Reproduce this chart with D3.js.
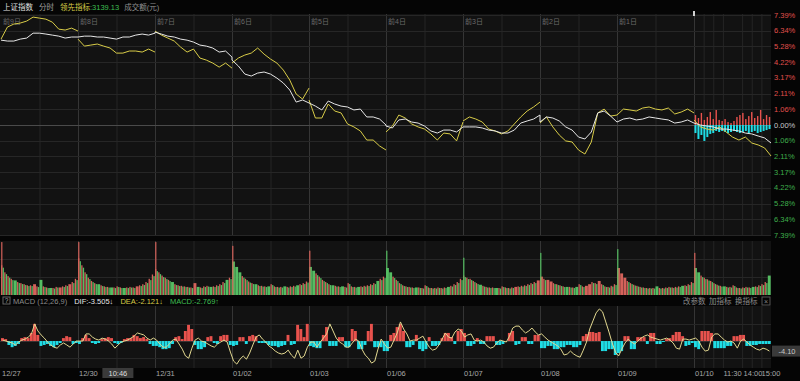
<!DOCTYPE html>
<html>
<head>
<meta charset="utf-8">
<script src="https://cdn.jsdelivr.net/npm/d3@7"></script>
<style>
  body { margin: 0; background: #000; }
  svg { display: block; font-family: "Liberation Sans", Arial, "Noto Sans CJK SC", sans-serif; }
</style>
</head>
<body>
<svg id="chart" width="800" height="381"></svg>
<script>
//categories and tick labels
let dates = ['12/27', '12/30', '12/31', '01/02', '01/03', '01/06', '01/07', '01/08', '01/09', '01/10'];
let dayTags = ['前9日', '前8日', '前7日', '前6日', '前5日', '前4日', '前3日', '前2日', '前1日'];
let pctTicks = [7.39, 6.34, 5.28, 4.22, 3.17, 2.11, 1.06, 0, -1.06, -2.11, -3.17, -4.22, -5.28, -6.34, -7.39];
let todayTimes = ['11:30', '14:00', '15:00'];
let macdGrid = [7, 0, -7];
let cursorDay = 1, cursorTime = '10:46', cursorValue = -4.10;

//上证指数 % change, 13 points a day (every 20 min)
let indexPct = [
  [5.70, 5.64, 5.64, 5.77, 5.84, 6.17, 6.17, 6.11, 6.04, 5.97, 5.84, 5.91, 5.91],
  [5.91, 5.97, 5.97, 5.91, 5.91, 5.84, 5.77, 5.91, 5.91, 6.04, 6.11, 6.04, 6.17],
  [6.24, 6.11, 5.97, 5.91, 5.77, 5.70, 5.57, 5.37, 5.30, 5.17, 4.90, 4.97, 4.56],
  [4.36, 3.96, 3.42, 3.29, 3.49, 3.56, 3.42, 3.15, 2.82, 2.35, 1.54, 1.68, 1.48],
  [1.48, 1.27, 1.01, 1.61, 1.41, 1.27, 1.21, 1.01, 1.07, 0.54, 0.54, 0.40, 0.00],
  [-0.07, -0.20, 0.34, 0.40, 0.20, 0.13, -0.07, -0.40, -0.54, -0.34, -0.34, -0.47, -0.13],
  [-0.13, -0.13, -0.13, -0.20, -0.34, -0.40, -0.54, -0.54, -0.34, 0.13, 0.27, 0.40, 0.67],
  [0.20, 0.54, 0.47, 0.27, -0.13, -0.34, -0.81, -0.94, -0.47, 0.81, 0.94, 0.60, 0.20],
  [0.20, 0.40, 0.47, 0.34, 0.40, 0.54, 0.47, 0.40, 0.34, 0.13, 0.20, 0.34, 0.13],
  [0.13, 0.00, -0.07, -0.13, -0.27, -0.27, -0.34, -0.40, -0.54, -0.60, -0.74, -0.87, -1.21]
];

//领先指标 % change
let leadPct = [
  [5.77, 6.58, 6.78, 6.85, 6.98, 7.25, 7.18, 7.11, 6.91, 6.44, 6.38, 6.51, 6.31],
  [5.77, 5.30, 5.37, 5.44, 5.30, 5.17, 4.83, 4.83, 4.97, 4.97, 4.90, 5.10, 4.90],
  [6.31, 6.04, 5.84, 5.64, 5.23, 4.90, 5.10, 4.50, 4.36, 4.16, 3.89, 4.16, 3.82],
  [4.16, 4.50, 4.70, 4.83, 5.17, 4.76, 4.43, 4.16, 3.69, 3.02, 2.08, 1.74, 2.48],
  [1.68, 0.47, 0.47, 1.41, 0.94, 0.81, 0.07, -0.13, -0.40, -1.01, -1.01, -1.41, -1.68],
  [-0.47, -0.07, 0.67, 0.47, 0.07, -0.13, -0.27, -0.60, -1.01, -0.54, -0.60, -1.07, 0.20],
  [0.27, 0.54, 0.40, 0.20, -0.27, -0.40, -0.60, -0.40, 0.07, 0.54, 0.94, 1.21, 1.54],
  [0.13, 0.54, -0.13, -0.67, -1.07, -1.14, -1.68, -1.95, -1.14, 0.81, 1.07, 0.60, 0.67],
  [0.67, 1.07, 1.01, 0.94, 1.14, 1.21, 1.07, 1.01, 1.14, 0.74, 0.87, 1.07, 0.81],
  [0.34, -0.13, -0.27, -0.34, -0.13, -0.47, -0.81, -1.01, -0.81, -1.21, -1.34, -1.54, -2.08]
];

//today's buy / sell strength bars (% units)
let todayBuy = [0.67, 0.47, 0.81, 0.34, 0.54, 0.87, 0.40, 1.01, 0.34, 0.27, 0.40, 0.20, 0.13, 0.27, 0.54, 0.67, 0.81, 0.40, 0.60, 0.87, 0.47, 0.60, 1.01, 0.40, 0.67, 0.54];
let todaySell = [0.54, 0.94, 0.67, 1.07, 0.81, 0.60, 0.54, 0.40, 0.47, 0.40, 0.47, 0.54, 0.47, 0.40, 0.47, 0.54, 0.47, 0.40, 0.54, 0.47, 0.40, 0.54, 0.47, 0.40, 0.34, 0.27];

//turnover of the opening minute of each day, and its colour
let volOpen = [98, 98, 98, 91, 82, 82, 69, 78, 85, 78];
let volOpenColors = 'rrrrrggggr';

//turnover, 24 buckets a day (10 min), relative to the top of the panel
let volume = [
  [55, 42, 35, 30, 27, 24, 22, 20, 18, 18, 20, 16, 28, 16, 14, 13, 13, 15, 14, 16, 18, 20, 24, 30],
  [68, 55, 42, 32, 26, 22, 20, 18, 16, 15, 14, 14, 16, 14, 13, 14, 15, 14, 16, 18, 20, 24, 30, 38],
  [48, 42, 36, 32, 28, 24, 20, 18, 17, 16, 15, 14, 22, 15, 14, 16, 17, 15, 16, 18, 20, 24, 28, 32],
  [62, 52, 42, 35, 30, 25, 22, 20, 18, 17, 16, 16, 20, 16, 15, 15, 16, 15, 16, 17, 18, 20, 22, 25],
  [52, 45, 40, 34, 28, 24, 20, 18, 17, 16, 16, 15, 22, 16, 15, 15, 16, 17, 18, 20, 22, 26, 30, 34],
  [50, 42, 34, 28, 22, 18, 16, 15, 14, 14, 14, 13, 18, 14, 13, 13, 14, 13, 14, 15, 17, 20, 24, 30],
  [36, 32, 30, 26, 22, 19, 17, 15, 14, 14, 13, 13, 16, 14, 13, 14, 15, 16, 17, 18, 20, 22, 24, 27],
  [34, 30, 28, 25, 22, 20, 18, 16, 15, 15, 14, 15, 20, 16, 17, 20, 24, 22, 26, 20, 16, 15, 17, 20],
  [50, 40, 32, 26, 22, 19, 17, 15, 14, 13, 13, 13, 16, 13, 13, 14, 15, 14, 15, 16, 17, 18, 20, 24],
  [50, 42, 36, 32, 29, 26, 22, 19, 17, 16, 15, 15, 18, 14, 13, 14, 15, 14, 15, 16, 18, 20, 24, 36]
];
//r = up, g = down, m = mixed bucket
let volColors = [
  'mmmmgmmmmmrmgmmgmmrmmrmm',
  'mmmmmmgmmmgmmmgmmmrmmmmm',
  'mmmmmgmmmmmmrgmmmgmmmmgm',
  'gggmmmmgmmmgmmmmgmmmgmmm',
  'ggmmmmmgmmgmmmmgmmmmmgmm',
  'ggmmmmmmmgmmmmmmmmmgmmmm',
  'mmmmmgmmmmgmmmmmrmmmmmmr',
  'rmrrmmmmgmmgmmrrmmrmmmmm',
  'rrrmmmmmmmmmgmmmmmmmgmmm',
  'ggmmmmmmmgmmmmmmmmgmmmmg'
];

//MACD histogram, 24 buckets a day
let macdHist = [
  [1.2, 0.8, -1.6, -2.5, -2.0, -1.2, 1.2, 1.6, 1.2, 3.3, 7.0, 2.5, -2.0, -1.6, -1.2, -2.0, -2.5, -1.6, -0.8, 1.2, 2.0, 1.6, -1.2, -0.8],
  [-1.2, 1.2, 2.5, 1.2, -0.8, -1.2, -0.8, 0.8, 1.2, 1.6, 1.2, -0.8, -1.2, -0.8, 0.8, 1.2, 1.2, 2.5, 2.0, 1.2, 1.6, 0.8, -1.2, -2.0],
  [-2.0, -2.5, -3.3, -3.3, -2.9, -1.2, 1.6, 2.0, 0.8, 4.1, 6.6, 4.9, -1.6, -3.3, -3.3, -2.5, 1.6, 2.0, -0.8, -1.2, 2.0, 2.5, 2.5, -1.6],
  [-2.0, -1.6, 1.6, 1.6, -1.2, 2.0, 2.5, 2.0, -0.8, -0.8, -0.8, -1.6, -2.0, -2.0, -2.5, -2.0, -1.6, 2.5, -1.6, -1.2, 6.6, 4.9, 1.6, 7.0],
  [-2.0, -2.5, -2.9, -2.9, 2.5, 5.7, -2.0, -2.0, -2.0, 1.6, 1.6, -2.5, -2.5, 4.9, 4.1, -3.3, -3.3, -1.6, 4.1, 7.0, -2.5, -2.5, -2.5, -4.1],
  [-4.1, 2.5, 3.3, 5.7, 7.0, 4.1, -2.5, -2.5, -1.6, 2.5, -3.3, -4.1, -3.3, 1.6, -2.0, -2.0, -1.6, 1.2, 3.3, 3.3, 1.6, -1.2, 4.1, 4.9],
  [3.3, -2.0, -2.0, -1.2, 1.2, -1.2, -1.2, 2.0, 2.0, 2.0, -1.6, -1.6, -1.2, 0, 3.3, 4.1, -1.6, -1.2, 1.6, 1.6, -1.2, -1.2, 2.5, 2.5],
  [-2.9, -2.9, -2.0, -2.0, -3.3, -3.3, -2.5, -2.5, -1.6, -1.6, -2.5, -2.5, -1.6, 2.0, 2.9, 3.7, 3.7, 3.3, 3.7, -4.1, -4.1, -3.3, -3.3, -5.7],
  [-4.9, -4.1, 2.0, 2.0, -3.3, -3.3, 1.6, 1.6, 1.6, -1.2, 3.3, 3.3, -1.2, -1.2, -0.4, 0.8, 1.2, 2.5, 3.7, 3.7, 2.0, -2.0, -1.6, -0.8],
  [-2.5, -3.3, 4.1, 4.1, 4.1, 3.3, -2.9, -2.9, -2.9, -2.9, -2.0, -2.0, 2.0, 2.0, 2.5, 2.5, -2.0, -2.0, -1.6, -1.6, -1.2, -1.2, -1.2, -1.2]
];

//MACD signal line, 24 points a day
let macdLine = [
  [0.4, 0, -0.4, -0.8, -1.6, -0.4, 0.4, 0.8, 1.6, 2.9, 7.0, 4.1, 2.5, 1.2, -0.4, -1.6, -2.5, -2.9, -1.6, -0.8, -1.6, -2.5, -1.2, 0],
  [0, 0, 2.9, 2.9, 1.6, 0.8, 0.4, 1.2, 0.8, 0, -1.2, -2.9, -1.6, -0.4, 0, 0.4, 1.2, 2.0, 3.3, 2.9, 2.5, 1.2, 0.4, 1.2],
  [0.4, -1.2, -2.5, -2.5, -1.2, 0.4, 0.8, -1.2, -3.3, -6.1, -7.0, -2.9, 0.4, 1.2, 0, -0.4, -1.2, -2.0, -2.5, -1.2, -0.4, 0.4, -0.4, -4.5],
  [-8.2, -9.4, -7.4, -6.1, -7.4, -4.9, -1.6, 1.6, 2.5, 0.8, -0.4, -2.0, -2.9, -4.1, -4.9, -5.3, -4.9, -3.7, -5.7, -7.0, -3.7, -7.0, -6.1, -2.5],
  [-0.4, -0.4, -2.5, -0.4, 1.2, 2.9, 7.0, 4.1, 1.2, -0.4, -1.2, -2.5, -2.5, -0.8, 0.8, 0, -3.3, -5.7, -7.0, -9.0, -8.2, -3.3, 0.8, -1.2],
  [-2.9, -2.5, 0.4, 3.3, 7.8, 4.9, 2.9, 0, 0.4, 0.4, 1.2, 2.0, -0.4, -2.5, -3.7, -3.3, -1.6, 0.8, 3.3, 1.6, 1.2, 3.7, 4.9, 4.1],
  [1.6, 2.5, 2.9, 0.4, 0, 0.4, -0.4, -2.0, -2.9, -2.5, -0.8, 0.4, 0, -0.4, 2.0, 5.3, 6.1, 6.1, 4.5, 3.3, 4.1, 5.3, 3.7, 2.5],
  [2.9, 1.6, 0.4, -0.4, -1.2, -2.0, -3.3, -5.7, -5.3, -4.1, -5.3, -6.1, -6.6, -3.7, -0.4, 4.9, 8.2, 11.5, 13.1, 11.9, 7.8, 3.7, -0.8, -4.5],
  [-6.1, -3.3, -0.8, 0.8, -0.4, -1.2, 0, 1.2, 2.0, 2.5, 1.6, 1.2, 0.8, 0.4, 0.8, 1.2, 0.4, -0.8, -2.9, -3.3, 0.8, 0.8, 0.4, 0.8],
  [1.2, 0, -2.5, -4.1, -3.7, 1.6, 2.9, 2.9, 1.6, 0.4, -0.4, 0, -0.8, -2.9, 0, 0.8, -0.4, -1.6, -2.5, -3.3, -3.7, -2.9, -3.3, -4.1]
];

let red = '#e8524d', green = '#45c258', cyan = '#1fdde6', yellow = '#d8cc48';
let volRed = '#d4625a', volGreen = '#55bd62';

//scales: x runs in trading days, 0 = open of 12/27
let x = d3.scaleLinear().domain([0, dates.length]).range([1, 771]);
let yMain = d3.scaleLinear().domain([-7.39, 7.39]).range([235, 15]);
let yVol = d3.scaleLinear().domain([0, 100]).range([295, 241]);
let yMacd = d3.scaleLinear().domain([-11, 14.3]).range([368, 306]);

//trading minutes since 9:30, lunch break removed
function tradeMin(s) {
  let p = s.split(':').map(Number);
  let m = p[0] * 60 + p[1];
  return m <= 690 ? m - 570 : m - 780 + 120;
}

let svg = d3.select('#chart');

//panel backgrounds
svg.append('rect').attr('width', 800).attr('height', 381).attr('fill', '#050505');
let panels = [[14, 236], [241, 295], [306, 368]];
svg.selectAll('rect.panel').data(panels).join('rect')
  .attr('class', 'panel')
  .attr('x', 0).attr('y', d => d[0])
  .attr('width', x(dates.length)).attr('height', d => d[1] - d[0])
  .attr('fill', '#121212');

//vertical grid: day lines, half days, half hours of today
let vLines = [];
dates.forEach((d, i) => {
  if (i > 0) vLines.push({t: i, c: '#353535'});
  if (i < dates.length - 1) vLines.push({t: i + 0.5, c: '#252525'});
});
d3.range(1, 8).forEach(k => { if (k != 4) vLines.push({t: dates.length - 1 + k / 8, c: '#252525'}); });
let grid = svg.append('g');
panels.forEach(p => {
  grid.selectAll(null).data(vLines).join('line')
    .attr('x1', d => x(d.t) + 0.5).attr('x2', d => x(d.t) + 0.5)
    .attr('y1', p[0]).attr('y2', p[1])
    .attr('stroke', d => d.c);
});

//horizontal grid
grid.selectAll(null).data(pctTicks).join('line')
  .attr('x1', 0).attr('x2', x(dates.length))
  .attr('y1', d => Math.round(yMain(d)) + 0.5).attr('y2', d => Math.round(yMain(d)) + 0.5)
  .attr('stroke', d => d == 0 ? '#4a4a4a' : '#262626');
grid.selectAll(null).data([100 / 3, 200 / 3]).join('line')
  .attr('x1', 0).attr('x2', x(dates.length))
  .attr('y1', d => Math.round(yVol(d)) + 0.5).attr('y2', d => Math.round(yVol(d)) + 0.5)
  .attr('stroke', '#262626');
grid.selectAll(null).data(macdGrid).join('line')
  .attr('x1', 0).attr('x2', x(dates.length))
  .attr('y1', d => Math.round(yMacd(d)) + 0.5).attr('y2', d => Math.round(yMacd(d)) + 0.5)
  .attr('stroke', d => d == 0 ? '#333' : '#262626');

//header
let head = svg.append('text').attr('x', 3).attr('y', 10).attr('font-size', 7.5);
head.append('tspan').attr('fill', '#e0e0e0').text('上证指数');
head.append('tspan').attr('fill', '#a0a0a0').attr('dx', 6).text('分时');
head.append('tspan').attr('fill', yellow).attr('dx', 6).text('领先指标');
head.append('tspan').attr('fill', '#3fbf52').text(':3139.13');
head.append('tspan').attr('fill', '#909090').attr('dx', 5).text('成交额(元)');

//today marker on top
svg.append('rect').attr('x', x(dates.length - 1) - 1).attr('y', 11)
  .attr('width', 2).attr('height', 5).attr('fill', '#d0d0d0');

//day tags
svg.selectAll('text.tag').data(dayTags).join('text')
  .attr('class', 'tag')
  .attr('x', (d, i) => x(i) + 2).attr('y', 24)
  .attr('font-size', 7).attr('fill', '#6a6a6a')
  .text(d => d);

//right percent labels
svg.selectAll('text.pct').data(pctTicks).join('text')
  .attr('class', 'pct')
  .attr('x', 774).attr('y', d => yMain(d) + 2.5)
  .attr('font-size', 7.5)
  .attr('fill', d => d > 0 ? '#e0504c' : d < 0 ? '#3fae4c' : '#c8c8c8')
  .text(d => Math.abs(d).toFixed(2) + '%');

//today's strength bars
let nb = todayBuy.length;
let todayG = svg.append('g');
todayG.selectAll('rect.sell').data(todaySell).join('rect')
  .attr('class', 'sell')
  .attr('x', (d, i) => x(dates.length - 1 + (i + 0.5) / nb) - 1)
  .attr('y', yMain(0))
  .attr('width', 2)
  .attr('height', d => yMain(-d) - yMain(0))
  .attr('fill', cyan);
todayG.selectAll('rect.buy').data(todayBuy).join('rect')
  .attr('class', 'buy')
  .attr('x', (d, i) => x(dates.length - 1 + (i + 0.5) / nb) - 0.7)
  .attr('y', d => yMain(d))
  .attr('width', 1.4)
  .attr('height', d => yMain(0) - yMain(d))
  .attr('fill', red);

//price lines
function toPoints(vals, di) {
  return vals.map((v, k) => ({t: di + k / (vals.length - 1), v: v}));
}
let line = d3.line().x(d => x(d.t)).y(d => yMain(d.v));
svg.selectAll('path.lead').data(leadPct.map(toPoints)).join('path')
  .attr('class', 'lead')
  .attr('d', line)
  .attr('fill', 'none').attr('stroke', yellow).attr('stroke-width', 1);
svg.append('path')
  .datum(indexPct.flatMap(toPoints))
  .attr('d', line)
  .attr('fill', 'none').attr('stroke', '#e6e6e6').attr('stroke-width', 1);

//volume bars
let volBars = [];
volume.forEach((vals, di) => {
  let n = vals.length;
  vals.forEach((v, k) => {
    let c = volColors[di][k];
    let t0 = di + k / n, t1 = di + (k + 1) / n;
    if (c == 'm') {
      volBars.push({t0: t0, t1: (t0 + t1) / 2, v: v, c: volRed});
      volBars.push({t0: (t0 + t1) / 2, t1: t1, v: v * 0.92, c: volGreen});
    } else {
      volBars.push({t0: t0, t1: t1, v: v, c: c == 'r' ? volRed : volGreen});
    }
  });
});
let volG = svg.append('g');
volG.selectAll('rect.vol').data(volBars).join('rect')
  .attr('class', 'vol')
  .attr('x', d => x(d.t0))
  .attr('y', d => yVol(d.v))
  .attr('width', d => Math.max(0.6, x(d.t1) - x(d.t0) - 0.3))
  .attr('height', d => yVol(0) - yVol(d.v))
  .attr('fill', d => d.c);
//opening minute spikes
volG.selectAll('rect.open').data(volOpen).join('rect')
  .attr('class', 'open')
  .attr('x', (d, i) => x(i) + 0.2)
  .attr('y', d => yVol(d))
  .attr('width', 1.2)
  .attr('height', d => yVol(0) - yVol(d))
  .attr('fill', (d, i) => volOpenColors[i] == 'r' ? volRed : volGreen);

//MACD header
let mh = svg.append('g').attr('font-size', 7.5);
mh.append('rect').attr('x', 3).attr('y', 297).attr('width', 7).attr('height', 7)
  .attr('fill', 'none').attr('stroke', '#666');
mh.append('text').attr('x', 6.5).attr('y', 303).attr('text-anchor', 'middle')
  .attr('fill', '#aaa').attr('font-size', 6.5).text('?');
let mt = mh.append('text').attr('x', 13).attr('y', 303.5);
mt.append('tspan').attr('fill', '#8c8c8c').text('MACD (12,26,9)');
mt.append('tspan').attr('fill', '#e6e6e6').attr('dx', 7).text('DIF:-3.505↓');
mt.append('tspan').attr('fill', yellow).attr('dx', 7).text('DEA:-2.121↓');
mt.append('tspan').attr('fill', '#3fbf52').attr('dx', 7).text('MACD:-2.769↑');
let opts = ['改参数', '加指标', '换指标'];
mh.selectAll('text.opt').data(opts).join('text')
  .attr('class', 'opt')
  .attr('x', (d, i) => 683 + i * 26).attr('y', 303.5)
  .attr('fill', '#8c8c8c').text(d => d);
mh.append('rect').attr('x', 762).attr('y', 297).attr('width', 8).attr('height', 8)
  .attr('fill', 'none').attr('stroke', '#555');
mh.append('text').attr('x', 766).attr('y', 303.5).attr('text-anchor', 'middle')
  .attr('fill', '#888').attr('font-size', 7).text('×');

//MACD histogram
let histBars = macdHist.flatMap((vals, di) => vals.map((v, k) => ({t0: di + k / vals.length, t1: di + (k + 1) / vals.length, v: v})));
svg.append('g').selectAll('rect').data(histBars).join('rect')
  .attr('x', d => x(d.t0))
  .attr('y', d => Math.min(yMacd(d.v), yMacd(0)))
  .attr('width', d => x(d.t1) - x(d.t0) - 0.3)
  .attr('height', d => Math.abs(yMacd(d.v) - yMacd(0)))
  .attr('fill', d => d.v >= 0 ? red : cyan);

//MACD line
let macdPts = macdLine.flatMap((vals, di) => vals.map((v, k) => ({t: di + (k + 0.5) / vals.length, v: v})));
svg.append('path').datum(macdPts)
  .attr('d', d3.line().x(d => x(d.t)).y(d => yMacd(d.v)))
  .attr('fill', 'none').attr('stroke', '#e2d890').attr('stroke-width', 1);

//value label of the cursor
svg.append('rect').attr('x', 772).attr('y', yMacd(cursorValue) - 5.5)
  .attr('width', 28).attr('height', 11).attr('fill', '#3a3a3a');
svg.append('text').attr('x', 787).attr('y', yMacd(cursorValue) + 2.5)
  .attr('text-anchor', 'middle').attr('font-size', 7.5).attr('fill', '#c8c8c8')
  .text(cursorValue.toFixed(2));

//bottom axis: dates
let axisY = 375.5;
svg.selectAll('text.date').data(dates).join('text')
  .attr('class', 'date')
  .attr('x', (d, i) => x(i) + 1).attr('y', axisY)
  .attr('font-size', 7.5).attr('fill', '#a8a8a8')
  .text(d => d);

//bottom axis: today's times, pushed apart when they collide
let last = dates.length - 1;
let timeLabels = svg.selectAll('text.time').data(todayTimes).join('text')
  .attr('class', 'time')
  .attr('y', axisY).attr('font-size', 7.5).attr('fill', '#a8a8a8')
  .attr('text-anchor', 'middle')
  .attr('x', d => x(last + tradeMin(d) / 240))
  .text(d => d);
let nodes = timeLabels.nodes();
let dateEnd = x(last) + 1 + svg.selectAll('text.date').nodes()[last].getComputedTextLength();
let prevEnd = dateEnd + 3;
nodes.forEach((n, i) => {
  let w = n.getComputedTextLength();
  let cx = +n.getAttribute('x');
  if (i < nodes.length - 1 && cx - w / 2 < prevEnd + 2) cx = prevEnd + 2 + w / 2;
  n.setAttribute('x', cx);
  prevEnd = cx + w / 2;
});

//cursor time box
let cx0 = x(cursorDay + tradeMin(cursorTime) / 240);
svg.append('rect').attr('x', cx0).attr('y', 368).attr('width', 31).attr('height', 10)
  .attr('fill', '#3a3a3a');
svg.append('text').attr('x', cx0 + 15.5).attr('y', axisY)
  .attr('text-anchor', 'middle').attr('font-size', 7.5).attr('fill', '#dcdcdc')
  .text(cursorTime);
</script>
</body>
</html>
